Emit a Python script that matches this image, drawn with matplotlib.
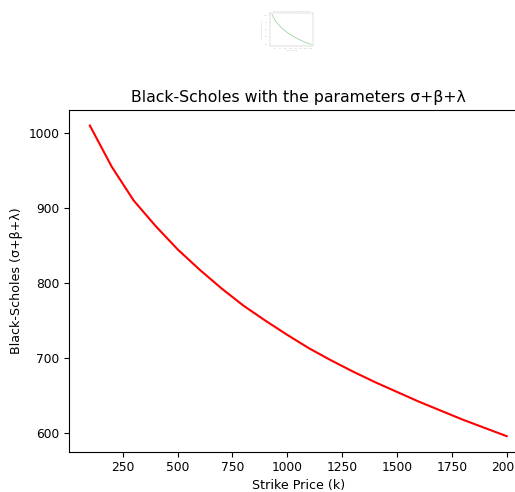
import matplotlib.pyplot as plt

# strike prices and option values
strike = [100, 200, 300, 400, 500, 600, 700, 800, 900, 1000,
          1100, 1200, 1300, 1400, 1500, 1600, 1700, 1800, 1900, 2000]
bs_value = [1010, 955, 910, 876, 845, 818, 793, 770, 750, 731,
            713, 697, 682, 668, 655, 642, 630, 618, 607, 596]

W, H = 515, 492
fig = plt.figure(figsize=(W / 100, H / 100), dpi=100)

# main plot (right edge runs past the canvas, as in the reference)
ax = fig.add_axes([69 / W, 1 - 451.7 / H, 458.5 / W, 341.7 / H])
ax.plot(strike, bs_value, color='red')
ax.set_xticks([250, 500, 750, 1000, 1250, 1500, 1750, 2000])
ax.set_yticks([600, 700, 800, 900, 1000])
ax.tick_params(labelsize=8.8)
ax.set_xlabel('Strike Price (k)', fontsize=9.1, labelpad=3)
ax.set_ylabel('Black-Scholes (σ+β+λ)', fontsize=9.1)
ax.set_title('Black-Scholes with the parameters σ+β+λ', fontsize=11.3)

# small faded thumbnail at the top
th = fig.add_axes([270 / W, 1 - 46 / H, 43 / W, 33 / H])
th.plot(strike, bs_value, color='#8fcc8f', linewidth=0.5)
th.set_xticks([250, 500, 750, 1000, 1250, 1500, 1750, 2000])
th.set_yticks([600, 700, 800, 900, 1000])
th.tick_params(labelsize=1.2, length=0.8, width=0.2, pad=0.5,
               colors='#bbbbbb', labelcolor='#bbbbbb')
for s in th.spines.values():
    s.set_linewidth(0.3)
    s.set_color('#bbbbbb')
th.set_title('Black-Scholes with the parameters σ+β+λ', fontsize=1.3,
             color='#bbbbbb', pad=1)
th.set_xlabel('Strike Price (k)', fontsize=1.2, color='#bbbbbb', labelpad=0.5)
th.set_ylabel('Black-Scholes (σ+β+λ)', fontsize=1.2, color='#bbbbbb', labelpad=0.5)

fig.savefig('out.png', dpi=100)
